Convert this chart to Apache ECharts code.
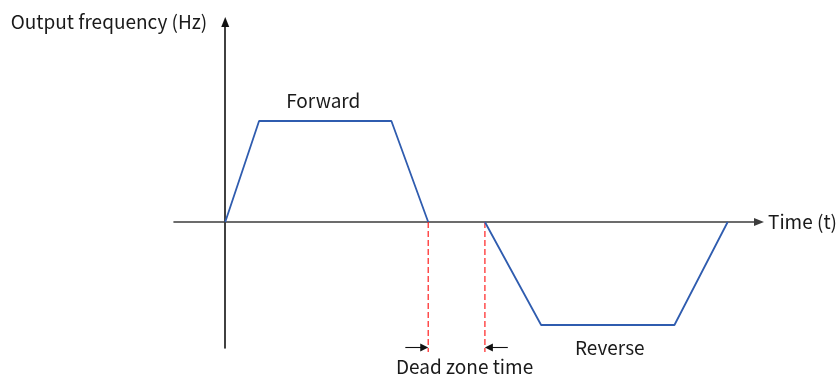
<!DOCTYPE html>
<html>
<head>
<meta charset="utf-8">
<script src="https://cdn.jsdelivr.net/npm/echarts@6/dist/echarts.min.js"></script>
<style>
  html, body { margin: 0; padding: 0; background: #ffffff; }
  #chart { width: 840px; height: 376px; }
</style>
</head>
<body>
<div id="chart"></div>
<script>
// Output frequency profile: forward run, dead zone, reverse run
const forwardTime = [0, 3.4, 16.7, 20.4];
const forwardFreq = [0, 10.1, 10.1, 0];
const reverseTime = [26.1, 31.75, 45.15, 50.5];
const reverseFreq = [0, -10.3, -10.3, 0];
const deadZoneEdges = [20.4, 26.1];
const deadZoneDepth = -13;
const phaseNames = ['Forward', 'Reverse'];
const deadZoneName = 'Dead zone time';
const axisNames = { x: 'Time (t)', y: 'Output frequency (Hz)' };

const FONT = '"Noto Sans CJK SC", "Noto Sans", sans-serif';
const TEXT_COLOR = '#1a1a1a';
const BLUE = '#2f5caf';
const RED = '#ff2020';

const forward = forwardTime.map((t, i) => [t, forwardFreq[i]]);
const reverse = reverseTime.map((t, i) => [t, reverseFreq[i]]);

// label anchors: middle of each plateau and of the dead zone
const fwdMid = (forwardTime[1] + forwardTime[2]) / 2;
const revMid = (reverseTime[1] + reverseTime[2]) / 2;
const deadMid = (deadZoneEdges[0] + deadZoneEdges[1]) / 2;
const arrowY = -12.55;
const arrowLen = 2.3;
const tipInset = 0.4;

const chart = echarts.init(document.getElementById('chart'), null, { renderer: 'canvas' });

const labelStyle = { fontFamily: FONT, fontSize: 19, color: TEXT_COLOR };
const plateauLabel = {
  symbol: 'circle',
  symbolSize: 0,
  silent: true,
  label: { show: true, formatter: '{b}', ...labelStyle }
};

chart.setOption({
  animation: false,
  backgroundColor: '#ffffff',
  textStyle: { fontFamily: FONT },
  grid: { left: 174, top: 22, width: 588, height: 326, containLabel: false },
  xAxis: {
    type: 'value',
    min: -5.15,
    max: 53.65,
    name: axisNames.x,
    nameLocation: 'end',
    nameGap: 9,
    nameTextStyle: { fontFamily: FONT, fontSize: 19, color: TEXT_COLOR, align: 'left', verticalAlign: 'middle' },
    axisLine: {
      onZero: true,
      symbol: ['none', 'triangle'],
      symbolSize: [8, 10],
      lineStyle: { color: '#3c3c3c', width: 1.6 }
    },
    axisTick: { show: false },
    axisLabel: { show: false },
    splitLine: { show: false }
  },
  yAxis: {
    type: 'value',
    min: -12.6,
    max: 20,
    name: axisNames.y,
    nameLocation: 'end',
    nameGap: 0,
    nameTextStyle: { fontFamily: FONT, fontSize: 19, color: TEXT_COLOR, align: 'right', verticalAlign: 'middle', padding: [0, 18, 0, 0] },
    axisLine: {
      onZero: true,
      symbol: ['none', 'triangle'],
      symbolSize: [8, 10],
      lineStyle: { color: '#111111', width: 1.6 }
    },
    axisTick: { show: false },
    axisLabel: { show: false },
    splitLine: { show: false }
  },
  series: [
    {
      type: 'line',
      name: 'forward',
      data: forward,
      symbol: 'none',
      lineStyle: { color: BLUE, width: 1.8 },
      z: 5,
      markPoint: Object.assign({}, plateauLabel, {
        data: [{ name: phaseNames[0], coord: [fwdMid, forwardFreq[1]], label: { offset: [-2, -20] } }]
      })
    },
    {
      type: 'line',
      name: 'reverse',
      data: reverse,
      symbol: 'none',
      lineStyle: { color: BLUE, width: 1.8 },
      z: 5,
      markPoint: Object.assign({}, plateauLabel, {
        data: [{ name: phaseNames[1], coord: [revMid, reverseFreq[1]], label: { offset: [2, 23] } }]
      })
    },
    {
      type: 'line',
      name: 'deadStart',
      data: [[deadZoneEdges[0], 0], [deadZoneEdges[0], deadZoneDepth]],
      symbol: 'none',
      clip: false,
      lineStyle: { color: RED, width: 1.2, type: [6, 3] },
      z: 3
    },
    {
      type: 'line',
      name: 'deadEnd',
      data: [[deadZoneEdges[1], 0], [deadZoneEdges[1], deadZoneDepth]],
      symbol: 'none',
      clip: false,
      lineStyle: { color: RED, width: 1.2, type: [6, 3] },
      z: 3,
      markLine: {
        silent: true,
        symbol: ['none', 'triangle'],
        symbolSize: [8, 8],
        label: { show: false },
        lineStyle: { color: '#111111', width: 1.1, type: 'solid' },
        data: [
          [{ coord: [deadZoneEdges[0] - arrowLen, arrowY] }, { coord: [deadZoneEdges[0] - tipInset, arrowY] }],
          [{ coord: [deadZoneEdges[1] + arrowLen, arrowY] }, { coord: [deadZoneEdges[1] + tipInset, arrowY] }]
        ]
      },
      markPoint: {
        symbol: 'circle',
        symbolSize: 0,
        silent: true,
        label: { show: true, formatter: '{b}', ...labelStyle },
        data: [
          { name: deadZoneName, coord: [deadMid, arrowY], label: { offset: [8, 19] } }
        ]
      }
    }
  ]
});
</script>
</body>
</html>
